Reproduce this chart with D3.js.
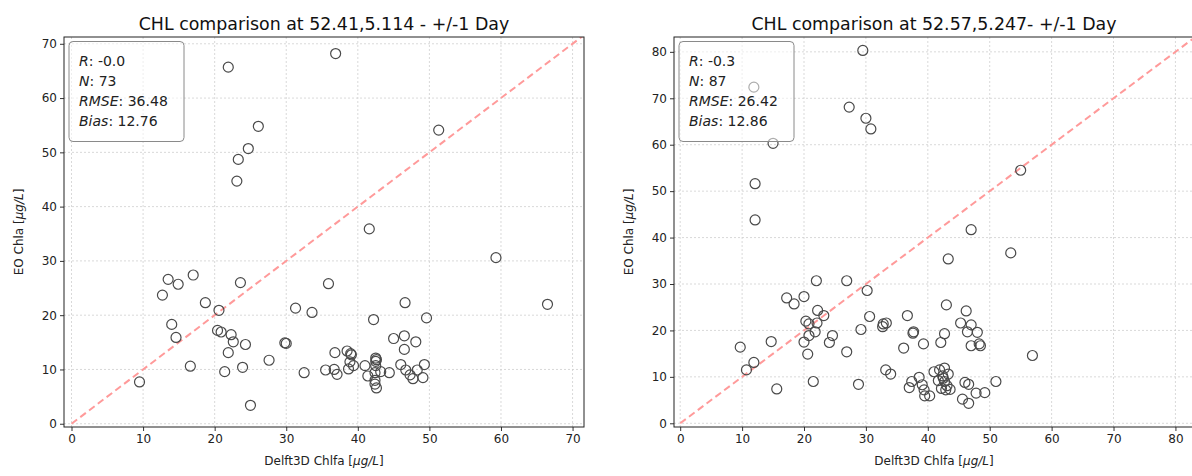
<!DOCTYPE html>
<html>
<head>
<meta charset="utf-8">
<script src="https://cdn.jsdelivr.net/npm/d3@7"></script>
<style>
  html, body { margin: 0; padding: 0; background: #fff; }
  svg { display: block; font-family: "DejaVu Sans", sans-serif; }
</style>
</head>
<body>
<svg id="chart" width="1192" height="476"></svg>
<script>
// Station 1 (52.41, 5.114): model value (x) and EO value (y)
const station1Model = [21.9, 36.9, 26.1, 24.7, 23.3, 51.3, 23.1, 41.6, 59.3, 13.5,
  14.9, 17.0, 12.7, 18.7, 20.6, 23.6, 31.3, 33.6, 35.9, 46.6,
  66.5, 42.2, 49.6, 14.0, 14.6, 20.4, 20.9, 22.3, 22.6, 24.3,
  21.9, 16.6, 21.4, 23.9, 27.6, 29.8, 30.0, 9.5, 25.0, 32.5,
  35.5, 36.7, 37.1, 36.8, 38.5, 39.0, 38.9, 38.7, 39.4, 41.0,
  41.4, 42.5, 42.5, 42.5, 42.4, 42.4, 42.6, 43.2, 44.4, 45.0,
  46.5, 46.5, 48.1, 46.0, 46.7, 47.3, 47.7, 48.3, 49.1, 49.3,
  42.4, 42.6, 39.1];
const station1EO = [65.7, 68.2, 54.8, 50.7, 48.7, 54.1, 44.7, 35.9, 30.6, 26.6,
  25.7, 27.4, 23.7, 22.3, 20.9, 26.0, 21.3, 20.5, 25.8, 22.3,
  22.0, 19.2, 19.5, 18.3, 15.9, 17.2, 16.9, 16.4, 15.1, 14.6,
  13.1, 10.6, 9.6, 10.4, 11.7, 14.9, 14.8, 7.7, 3.4, 9.4,
  9.9, 10.0, 9.1, 13.1, 13.4, 12.9, 11.4, 10.1, 10.7, 10.7,
  8.8, 12.1, 11.5, 10.7, 9.4, 8.0, 6.6, 9.6, 9.4, 15.7,
  16.2, 13.7, 15.1, 10.9, 9.9, 9.0, 8.3, 9.9, 8.5, 10.9,
  7.3, 11.8, 12.7];

// Station 2 (52.57, 5.247)
const station2Model = [29.5, 11.9, 27.3, 30.0, 30.8, 15.0, 55.0, 12.1, 12.1, 17.2,
  18.4, 20.0, 22.0, 26.9, 30.2, 22.2, 23.2, 20.3, 20.8, 22.1,
  30.6, 32.8, 33.3, 36.7, 37.7, 29.2, 43.0, 47.0, 43.3, 53.4,
  46.2, 45.3, 47.0, 42.7, 48.0, 9.7, 10.7, 11.9, 15.6, 14.7,
  20.0, 20.8, 21.8, 20.6, 21.5, 24.1, 24.6, 26.9, 28.8, 32.7,
  33.2, 34.0, 39.3, 36.1, 37.0, 37.4, 38.6, 39.1, 39.4, 39.5,
  40.3, 41.0, 42.1, 46.4, 47.0, 48.3, 48.5, 56.9, 51.0, 41.7,
  41.9, 42.7, 43.3, 42.5, 42.7, 42.2, 42.9, 43.6, 46.0, 46.6,
  45.6, 46.6, 47.8, 49.2, 42.4, 43.1, 37.6];
const station2EO = [80.3, 72.4, 68.1, 65.7, 63.4, 60.3, 54.5, 51.6, 43.8, 27.0,
  25.7, 27.3, 30.7, 30.7, 28.6, 24.3, 23.2, 22.0, 21.4, 21.6,
  23.0, 21.4, 21.6, 23.2, 19.7, 20.2, 25.5, 41.7, 35.4, 36.7,
  24.2, 21.6, 21.2, 19.3, 19.6, 16.4, 11.5, 13.1, 7.4, 17.6,
  17.5, 18.9, 19.7, 14.9, 9.0, 17.4, 18.9, 15.4, 8.4, 20.8,
  11.5, 10.6, 17.1, 16.2, 7.7, 9.0, 9.9, 8.3, 7.2, 5.9,
  5.9, 11.1, 17.4, 19.7, 16.7, 17.1, 16.7, 14.6, 9.0, 9.2,
  11.5, 11.9, 10.6, 9.7, 9.0, 7.5, 7.2, 7.3, 8.8, 8.4,
  5.2, 4.3, 6.5, 6.6, 10.2, 8.1, 19.4];

const panels = [
  {
    title: "CHL comparison at 52.41,5.114 - +/-1 Day",
    x: station1Model, y: station1EO,
    domain: [-1.05, 71.6], yDomain: [-0.6, 71.25],
    ticks: [0, 10, 20, 30, 40, 50, 60, 70],
    stats: [["R", "-0.0"], ["N", "73"], ["RMSE", "36.48"], ["Bias", "12.76"]],
    left: 64, top: 37, width: 520, height: 390
  },
  {
    title: "CHL comparison at 52.57,5.247- +/-1 Day",
    x: station2Model, y: station2EO,
    domain: [-1.0, 83.0], yDomain: [-0.8, 83.2],
    ticks: [0, 10, 20, 30, 40, 50, 60, 70, 80],
    stats: [["R", "-0.3"], ["N", "87"], ["RMSE", "26.42"], ["Bias", "12.86"]],
    left: 674, top: 37, width: 520, height: 390
  }
];

const svg = d3.select("#chart");

panels.forEach((p, i) => {
  const g = svg.append("g").attr("transform", `translate(${p.left},${p.top})`);
  const xs = d3.scaleLinear().domain(p.domain).range([0, p.width]);
  const ys = d3.scaleLinear().domain(p.yDomain).range([p.height, 0]);

  const clipId = `clip${i}`;
  g.append("clipPath").attr("id", clipId)
    .append("rect").attr("width", p.width).attr("height", p.height);

  // grid
  const grid = g.append("g").attr("stroke", "#cfcfcf").attr("stroke-width", 0.8)
    .attr("stroke-dasharray", "2,2");
  p.ticks.forEach(t => {
    grid.append("line").attr("x1", xs(t)).attr("x2", xs(t)).attr("y1", 0).attr("y2", p.height);
    grid.append("line").attr("y1", ys(t)).attr("y2", ys(t)).attr("x1", 0).attr("x2", p.width);
  });

  const plot = g.append("g").attr("clip-path", `url(#${clipId})`);

  // 1:1 reference line
  const hi = Math.max(p.domain[1], p.yDomain[1]);
  plot.append("line")
    .attr("x1", xs(0)).attr("y1", ys(0)).attr("x2", xs(hi)).attr("y2", ys(hi))
    .attr("stroke", "#ff9a9a").attr("stroke-width", 2).attr("stroke-dasharray", "7,4");

  // observations
  plot.selectAll("circle").data(p.x.map((v, k) => [v, p.y[k]])).join("circle")
    .attr("cx", d => xs(d[0])).attr("cy", d => ys(d[1])).attr("r", 5)
    .attr("fill", "none").attr("stroke", "#4a4a4a").attr("stroke-width", 1.2);

  // axes
  const xAxis = d3.axisBottom(xs).tickValues(p.ticks).tickSizeOuter(0).tickSize(4).tickPadding(3);
  const yAxis = d3.axisLeft(ys).tickValues(p.ticks).tickSizeOuter(0).tickSize(4).tickPadding(3);
  const gx = g.append("g").attr("transform", `translate(0,${p.height})`).call(xAxis);
  const gy = g.append("g").call(yAxis);
  [gx, gy].forEach(a => {
    a.select(".domain").remove();
    a.selectAll("text").attr("font-size", 12).attr("fill", "#222").attr("font-family", "DejaVu Sans");
    a.selectAll("line").attr("stroke", "#333");
  });

  // frame
  g.append("rect").attr("width", p.width).attr("height", p.height)
    .attr("fill", "none").attr("stroke", "#222").attr("stroke-width", 1);

  // statistics box
  const box = g.append("g").attr("transform", "translate(5,4.5)");
  box.append("rect").attr("width", 115).attr("height", 100).attr("rx", 4)
    .attr("fill", "#fff").attr("fill-opacity", 0.55)
    .attr("stroke", "#8a8a8a").attr("stroke-width", 1);
  p.stats.forEach((s, k) => {
    const t = box.append("text").attr("x", 10).attr("y", 24.5 + k * 20)
      .attr("font-size", 14).attr("fill", "#222");
    t.append("tspan").attr("font-style", "italic").text(s[0]);
    t.append("tspan").text(": " + s[1]);
  });

  // titles and labels
  g.append("text").attr("x", p.width / 2).attr("y", -7).attr("text-anchor", "middle")
    .attr("font-size", 17.4).attr("fill", "#111").text(p.title);

  const xl = g.append("text").attr("x", p.width / 2).attr("y", p.height + 38)
    .attr("text-anchor", "middle").attr("font-size", 12).attr("fill", "#222");
  xl.append("tspan").text("Delft3D Chlfa [");
  xl.append("tspan").attr("font-style", "italic").text("μg/L");
  xl.append("tspan").text("]");

  const yl = g.append("text")
    .attr("transform", `translate(-41,${p.height / 2}) rotate(-90)`)
    .attr("text-anchor", "middle").attr("font-size", 12).attr("fill", "#222");
  yl.append("tspan").text("EO Chla [");
  yl.append("tspan").attr("font-style", "italic").text("μg/L");
  yl.append("tspan").text("]");
});
</script>
</body>
</html>
